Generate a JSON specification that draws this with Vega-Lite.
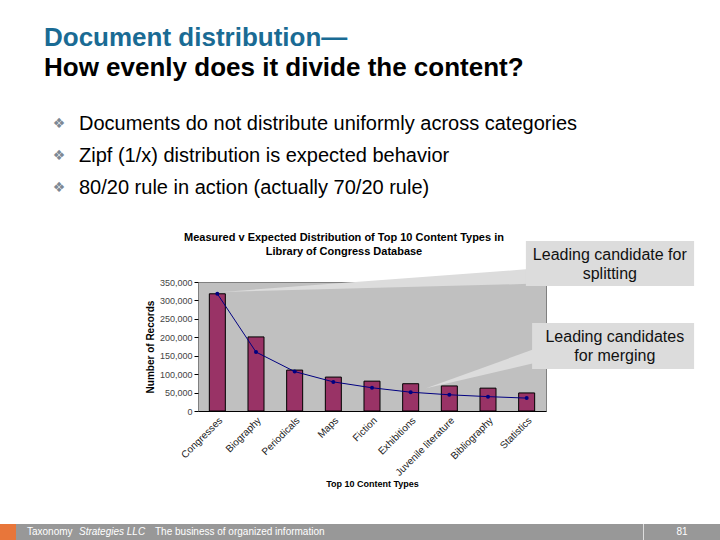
{
  "$schema": "https://vega.github.io/schema/vega-lite/v6.json",
  "background": "white",
  "padding": {"top": 25, "left": 0, "right": 0, "bottom": 0},
  "spacing": 31,
  "config": {
    "view": {"stroke": null},
    "font": "Liberation Sans"
  },
  "vconcat": [
    {
      "width": 720,
      "height": 88,
      "title": {
        "text": "Document distribution—",
        "subtitle": "How evenly does it divide the content?",
        "anchor": "start",
        "frame": "group",
        "dx": 44,
        "offset": 31,
        "font": "Liberation Sans",
        "fontSize": 26,
        "fontWeight": "bold",
        "color": "#1a6b94",
        "subtitleFont": "Liberation Sans",
        "subtitleFontSize": 26,
        "subtitleFontWeight": "bold",
        "subtitleColor": "#000000",
        "subtitlePadding": 4
      },
      "data": {
        "values": [
          {"item": "Documents do not distribute uniformly across categories"},
          {"item": "Zipf (1/x) distribution is expected behavior"},
          {"item": "80/20 rule in action (actually 70/20 rule)"}
        ]
      },
      "encoding": {
        "y": {"field": "item", "type": "nominal", "sort": null, "scale": {"type": "point", "padding": 0.375}, "axis": null}
      },
      "layer": [
        {
          "mark": {"type": "text", "text": "❖", "align": "center", "baseline": "middle", "dx": -301, "fontSize": 14, "font": "DejaVu Sans", "color": "#7d8894"}
        },
        {
          "mark": {"type": "text", "align": "left", "baseline": "middle", "dx": -281, "fontSize": 20, "color": "#000000"},
          "encoding": {"text": {"field": "item"}}
        }
      ]
    },
    {
      "spacing": 0,
      "hconcat": [
        {
          "width": 144,
          "height": 211,
          "data": {"values": []},
          "mark": "point"
        },
        {
          "width": 348,
          "height": 129,
          "view": {"fill": "#c0c0c0", "stroke": "#808080"},
          "title": {
            "text": ["Measured v Expected Distribution of Top 10 Content Types in", "Library of Congress Database"],
            "fontSize": 11,
            "fontWeight": "bold",
            "lineHeight": 14,
            "anchor": "middle",
            "frame": "group",
            "dx": -28,
            "offset": -16,
            "color": "#000000"
          },
          "layer": [
            {
              "data": {
                "values": [
                  {"type": "Congresses", "measured": 318000},
                  {"type": "Biography", "measured": 201000},
                  {"type": "Periodicals", "measured": 111000},
                  {"type": "Maps", "measured": 92000},
                  {"type": "Fiction", "measured": 81000},
                  {"type": "Exhibitions", "measured": 74000},
                  {"type": "Juvenile literature", "measured": 68000},
                  {"type": "Bibliography", "measured": 62000},
                  {"type": "Statistics", "measured": 49000}
                ]
              },
              "mark": {"type": "bar", "fill": "#993366", "stroke": "#000000", "strokeWidth": 1},
              "encoding": {
                "x": {
                  "field": "type", "type": "nominal", "sort": null,
                  "title": "Top 10 Content Types",
                  "scale": {"paddingInner": 0.586, "paddingOuter": 0.293},
                  "axis": {"labelAngle": -45, "labelFontSize": 10, "labelColor": "#222222", "ticks": false, "domainColor": "#000000", "labelPadding": 4, "titleFontSize": 9, "titleFontWeight": "bold", "titlePadding": 2, "titleColor": "#000000"}
                },
                "y": {
                  "field": "measured", "type": "quantitative",
                  "title": "Number of Records",
                  "scale": {"domain": [0, 350000], "nice": false},
                  "axis": {"values": [0, 50000, 100000, 150000, 200000, 250000, 300000, 350000], "tickCount": 8, "format": ",d", "labelOverlap": false, "grid": false, "domain": false, "tickSize": 4, "tickColor": "#000000", "labelFontSize": 9, "labelColor": "#444444", "labelPadding": 2, "titleFontSize": 10, "titleFontWeight": "bold", "titlePadding": 4, "titleColor": "#000000"}
                }
              }
            },
            {
              "data": {
                "values": [
                  {"type": "Congresses", "expected": 318000},
                  {"type": "Biography", "expected": 160000},
                  {"type": "Periodicals", "expected": 107000},
                  {"type": "Maps", "expected": 79000},
                  {"type": "Fiction", "expected": 63000},
                  {"type": "Exhibitions", "expected": 51000},
                  {"type": "Juvenile literature", "expected": 44000},
                  {"type": "Bibliography", "expected": 39000},
                  {"type": "Statistics", "expected": 35000}
                ]
              },
              "mark": {"type": "line", "color": "#000080", "strokeWidth": 1, "point": {"filled": true, "size": 16, "color": "#000080"}},
              "encoding": {
                "x": {"field": "type", "type": "nominal", "sort": null, "axis": null, "scale": {"type": "point", "padding": 0.5}},
                "y": {"field": "expected", "type": "quantitative", "title": "Number of Records"}
              }
            },
            {
              "data": {
                "values": [
                  {"w": "split", "x": 1.12, "top": 323000, "bottom": 323000},
                  {"w": "split", "x": 9.05, "top": 385000, "bottom": 345000},
                  {"w": "merge", "x": 6.4, "top": 62000, "bottom": 62000},
                  {"w": "merge", "x": 9.2, "top": 168000, "bottom": 130000}
                ]
              },
              "mark": {"type": "area", "color": "#dcdcdc", "opacity": 1, "orient": "vertical"},
              "encoding": {
                "x": {"field": "x", "type": "quantitative", "scale": {"domain": [0.5, 9.5], "nice": false, "zero": false}, "axis": null},
                "y": {"field": "top", "type": "quantitative", "title": "Number of Records"},
                "y2": {"field": "bottom"},
                "detail": {"field": "w"}
              }
            },
            {
              "data": {
                "values": [
                  {"x": 8.98, "x2": 13.33, "y": 461000, "y2": 339000},
                  {"x": 9.14, "x2": 13.33, "y": 239000, "y2": 114000}
                ]
              },
              "mark": {"type": "rect", "color": "#dcdcdc"},
              "encoding": {
                "x": {"field": "x", "type": "quantitative", "scale": {"domain": [0.5, 9.5], "nice": false, "zero": false}, "axis": null},
                "x2": {"field": "x2"},
                "y": {"field": "y", "type": "quantitative", "title": "Number of Records"},
                "y2": {"field": "y2"}
              }
            },
            {
              "data": {
                "values": [
                  {"label": "Leading candidate for\nsplitting", "x": 11.15, "y": 423000},
                  {"label": "Leading candidates\nfor merging", "x": 11.28, "y": 200000}
                ]
              },
              "mark": {"type": "text", "lineBreak": "\n", "lineHeight": 19, "fontSize": 16, "align": "center", "baseline": "middle", "color": "#111111"},
              "encoding": {
                "x": {"field": "x", "type": "quantitative", "scale": {"domain": [0.5, 9.5], "nice": false, "zero": false}, "axis": null},
                "y": {"field": "y", "type": "quantitative", "title": "Number of Records"},
                "text": {"field": "label"}
              }
            }
          ],
          "resolve": {"scale": {"x": "independent"}, "axis": {"x": "independent"}}
        }
      ]
    },
    {
      "spacing": 0,
      "hconcat": [
        {
          "width": 16,
          "height": 16,
          "data": {"values": [{}]},
          "mark": {"type": "rect", "color": "#e8763a"},
          "encoding": {}
        },
        {
          "width": 627,
          "height": 16,
          "data": {"values": [{"a": "Taxonomy", "b": "Strategies LLC", "c": "The business of organized information"}]},
          "layer": [
            {"mark": {"type": "rect", "color": "#989898"}, "encoding": {}},
            {"mark": {"type": "text", "align": "left", "baseline": "middle", "dx": -302.5, "fontSize": 10, "color": "#ffffff"}, "encoding": {"text": {"field": "a"}}},
            {"mark": {"type": "text", "align": "left", "baseline": "middle", "dx": -250.5, "fontSize": 10, "fontStyle": "italic", "color": "#ffffff"}, "encoding": {"text": {"field": "b"}}},
            {"mark": {"type": "text", "align": "left", "baseline": "middle", "dx": -174.5, "fontSize": 10, "color": "#ffffff"}, "encoding": {"text": {"field": "c"}}}
          ]
        },
        {
          "width": 1,
          "height": 16,
          "data": {"values": [{}]},
          "mark": {"type": "rect", "color": "#dedede"},
          "encoding": {}
        },
        {
          "width": 76,
          "height": 16,
          "data": {"values": [{"p": "81"}]},
          "layer": [
            {"mark": {"type": "rect", "color": "#989898"}, "encoding": {}},
            {"mark": {"type": "text", "align": "center", "baseline": "middle", "fontSize": 10, "color": "#ffffff"}, "encoding": {"text": {"field": "p"}}}
          ]
        }
      ]
    }
  ]
}
